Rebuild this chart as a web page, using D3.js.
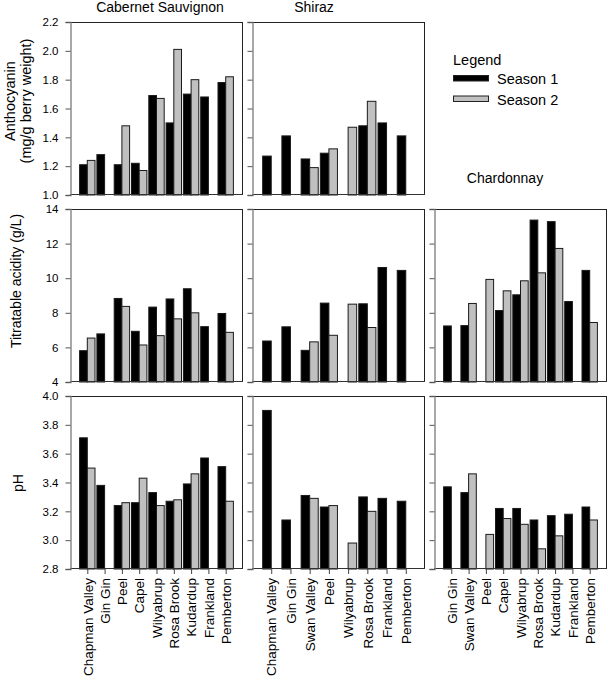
<!DOCTYPE html>
<html><head><meta charset="utf-8">
<script src="https://cdn.jsdelivr.net/npm/d3@7/dist/d3.min.js"></script>
<style>
html,body{margin:0;padding:0;background:#fff;}
svg{display:block;font-family:"Liberation Sans",Arial,Helvetica,sans-serif;}
</style></head>
<body>
<script>
// ---- data ----
const seasons = ["Season 1", "Season 2"];
const cabSites = ["Chapman Valley","Gin Gin","Peel","Capel","Wilyabrup","Rosa Brook","Kudardup","Frankland","Pemberton"];
const shzSites = ["Chapman Valley","Gin Gin","Swan Valley","Peel","Wilyabrup","Rosa Brook","Frankland","Pemberton"];
const chdSites = ["Gin Gin","Swan Valley","Peel","Capel","Wilyabrup","Rosa Brook","Kudardup","Frankland","Pemberton"];

const cabAnth1 = [1.21,1.28,1.21,1.22,1.69,1.50,1.70,1.68,1.78];
const cabAnth2 = [1.24,null,1.48,1.17,1.67,2.01,1.80,null,1.82];
const shzAnth1 = [1.27,1.41,1.25,1.29,null,1.48,1.50,1.41];
const shzAnth2 = [null,null,1.19,1.32,1.47,1.65,null,null];

const cabTA1 = [5.81,6.78,8.83,6.93,8.33,8.80,9.39,7.20,7.96];
const cabTA2 = [6.54,null,8.37,6.14,6.68,7.65,8.00,null,6.87];
const shzTA1 = [6.37,7.19,5.83,8.56,null,8.52,10.62,10.45];
const shzTA2 = [null,null,6.32,6.70,8.50,7.15,null,null];
const chdTA1 = [7.24,7.26,null,8.13,9.04,13.36,13.27,8.65,10.45];
const chdTA2 = [null,8.54,9.93,9.27,9.85,10.31,11.72,null,7.44];

const cabPH1 = [3.71,3.38,3.24,3.26,3.33,3.27,3.39,3.57,3.51];
const cabPH2 = [3.50,null,3.26,3.43,3.24,3.28,3.46,null,3.27];
const shzPH1 = [3.90,3.14,3.31,3.23,null,3.30,3.29,3.27];
const shzPH2 = [null,null,3.29,3.24,2.98,3.20,null,null];
const chdPH1 = [3.37,3.33,null,3.22,3.22,3.14,3.17,3.18,3.23];
const chdPH2 = [null,3.46,3.04,3.15,3.11,2.94,3.03,null,3.14];

const varieties = ["Cabernet Sauvignon","Shiraz","Chardonnay"];
const anthTicks = [1.0,1.2,1.4,1.6,1.8,2.0,2.2];
const taTicks = [4,6,8,10,12,14];
const phTicks = [2.8,3.0,3.2,3.4,3.6,3.8,4.0];
const rowTitles = [["Anthocyanin","(mg/g berry weight)"],["Titratable acidity (g/L)"],["pH"]];

// ---- layout ----
const W = 608, H = 683;
const colX = [70, 252, 434], pw = 173;
const rowY = [22, 209, 396], ph = 173;
const fills = ["#000000", "#c0c0c0"];
const svg = d3.select("body").append("svg").attr("width", W).attr("height", H);

const rows = [
  { ticks: anthTicks, fmt: d3.format(".1f"), panels: [
    { sites: cabSites, s: [cabAnth1, cabAnth2] },
    { sites: shzSites, s: [shzAnth1, shzAnth2] },
    null ] },
  { ticks: taTicks, fmt: d3.format("d"), panels: [
    { sites: cabSites, s: [cabTA1, cabTA2] },
    { sites: shzSites, s: [shzTA1, shzTA2] },
    { sites: chdSites, s: [chdTA1, chdTA2] } ] },
  { ticks: phTicks, fmt: d3.format(".1f"), panels: [
    { sites: cabSites, s: [cabPH1, cabPH2] },
    { sites: shzSites, s: [shzPH1, shzPH2] },
    { sites: chdSites, s: [chdPH1, chdPH2] } ] }
];

rows.forEach((row, ri) => {
  const y = d3.scaleLinear().domain(d3.extent(row.ticks)).range([rowY[ri] + ph, rowY[ri]]);
  row.panels.forEach((p, ci) => {
    if (!p) return;
    const n = p.sites.length;
    const x = d3.scaleLinear().domain([0, n + 1]).range([colX[ci], colX[ci] + pw]);
    const bw = 0.445;
    const g = svg.append("g");
    // bars
    p.s.forEach((vals, si) => {
      g.selectAll(null).data(vals.map((v, i) => ({ v, i })).filter(d => d.v != null))
        .join("rect")
        .attr("x", d => si === 0 ? x(d.i + 1 - bw) : x(d.i + 1))
        .attr("width", x(bw) - x(0))
        .attr("y", d => y(d.v))
        .attr("height", d => y.range()[0] - y(d.v))
        .attr("fill", fills[si])
        .attr("stroke", "#1a1a1a")
        .attr("stroke-width", 1);
    });
    // frame: top, right, bottom dark; left axis gray
    g.append("line").attr("x1", colX[ci]).attr("x2", colX[ci] + pw).attr("y1", rowY[ri] + 0.5).attr("y2", rowY[ri] + 0.5).attr("stroke", "#222");
    g.append("line").attr("x1", colX[ci] + pw - 0.5).attr("x2", colX[ci] + pw - 0.5).attr("y1", rowY[ri]).attr("y2", rowY[ri] + ph).attr("stroke", "#222");
    g.append("line").attr("x1", colX[ci]).attr("x2", colX[ci] + pw).attr("y1", rowY[ri] + ph - 0.5).attr("y2", rowY[ri] + ph - 0.5).attr("stroke", "#333");
    // y axis
    const ya = d3.axisLeft(y).tickValues(row.ticks).tickSize(5).tickPadding(7)
      .tickFormat(ci === 0 ? row.fmt : () => "");
    const yg = g.append("g").attr("transform", `translate(${colX[ci] + 0.5},0)`).call(ya);
    yg.select(".domain").attr("stroke", "#7a7a7a").attr("stroke-width", 1.3);
    yg.selectAll(".tick line").attr("stroke", "#555");
    yg.selectAll(".tick text").attr("font-size", 11.5).attr("fill", "#000")
      .attr("font-family", '"Liberation Sans",Arial,sans-serif');
    // x axis on bottom row
    if (ri === 2) {
      const xa = d3.axisBottom(x).tickValues(d3.range(1, n + 1)).tickSize(5).tickPadding(4)
        .tickFormat(i => p.sites[i - 1]);
      const xg = g.append("g").attr("transform", `translate(0,${rowY[ri] + ph})`).call(xa);
      xg.select(".domain").remove();
      xg.selectAll(".tick line").attr("stroke", "#444");
      xg.selectAll(".tick text")
        .attr("font-size", 13.5).attr("fill", "#000")
        .attr("font-family", '"Liberation Sans",Arial,sans-serif')
        .attr("text-anchor", "end")
        .attr("transform", "rotate(-90)")
        .attr("x", -9).attr("y", 0).attr("dy", "0.35em");
    }
  });
});

// column titles
svg.append("text").attr("x", 160).attr("y", 12).attr("text-anchor", "middle").attr("font-size", 14).text(varieties[0]);
svg.append("text").attr("x", 314).attr("y", 12).attr("text-anchor", "middle").attr("font-size", 14).text(varieties[1]);
svg.append("text").attr("x", 505).attr("y", 183).attr("text-anchor", "middle").attr("font-size", 14).text(varieties[2]);

// row titles
svg.append("text").attr("transform", "translate(15,101) rotate(-90)").attr("text-anchor", "middle").attr("font-size", 14.5).text(rowTitles[0][0]);
svg.append("text").attr("transform", "translate(31,101) rotate(-90)").attr("text-anchor", "middle").attr("font-size", 14.5).text(rowTitles[0][1]);
svg.append("text").attr("transform", "translate(21,281) rotate(-90)").attr("text-anchor", "middle").attr("font-size", 14).text(rowTitles[1][0]);
svg.append("text").attr("transform", "translate(23,483) rotate(-90)").attr("text-anchor", "middle").attr("font-size", 14).text(rowTitles[2][0]);

// legend
const lg = svg.append("g");
lg.append("text").attr("x", 453).attr("y", 65).attr("font-size", 14.5).text("Legend");
seasons.forEach((s, i) => {
  lg.append("rect").attr("x", 453.5).attr("y", 75.5 + i * 20.5).attr("width", 35).attr("height", 5.5)
    .attr("fill", fills[i]).attr("stroke", "#222").attr("stroke-width", 1);
  lg.append("text").attr("x", 497).attr("y", 84 + i * 20.5).attr("font-size", 14.5).text(s);
});
</script>
</body></html>
